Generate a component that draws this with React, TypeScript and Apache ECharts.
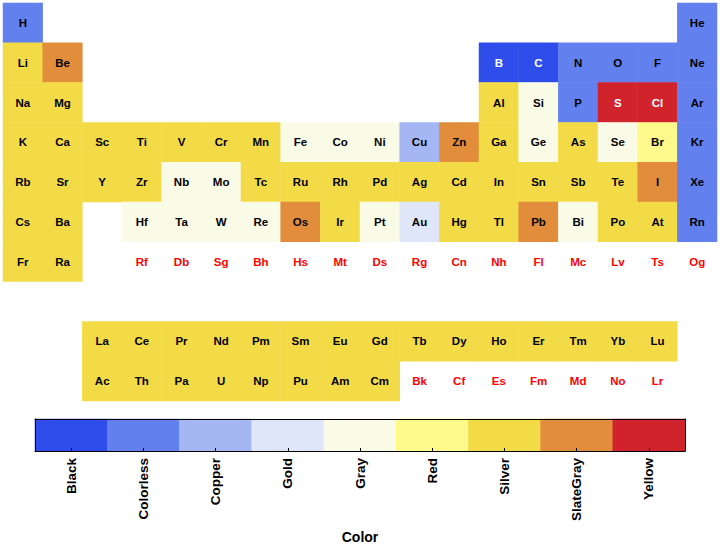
import React, { useEffect, useRef } from "react";
import * as echarts from "echarts";

// Color categories (legend order) and their swatch colours
const colorNames = ["Black", "Colorless", "Copper", "Gold", "Gray", "Red", "Silver", "SlateGray", "Yellow"];
const colorSwatches = ["#2E4DEB", "#6281EF", "#A4B7F4", "#E0E6FA", "#F9FBE7", "#FDF98B", "#F3DB48", "#E18D3B", "#D0232C"];

const _ = null;
// Periodic-table layout: 18 columns per row, null = empty cell
const row1 = ["H", _, _, _, _, _, _, _, _, _, _, _, _, _, _, _, _, "He"];
const row2 = ["Li", "Be", _, _, _, _, _, _, _, _, _, _, "B", "C", "N", "O", "F", "Ne"];
const row3 = ["Na", "Mg", _, _, _, _, _, _, _, _, _, _, "Al", "Si", "P", "S", "Cl", "Ar"];
const row4 = ["K", "Ca", "Sc", "Ti", "V", "Cr", "Mn", "Fe", "Co", "Ni", "Cu", "Zn", "Ga", "Ge", "As", "Se", "Br", "Kr"];
const row5 = ["Rb", "Sr", "Y", "Zr", "Nb", "Mo", "Tc", "Ru", "Rh", "Pd", "Ag", "Cd", "In", "Sn", "Sb", "Te", "I", "Xe"];
const row6 = ["Cs", "Ba", _, "Hf", "Ta", "W", "Re", "Os", "Ir", "Pt", "Au", "Hg", "Tl", "Pb", "Bi", "Po", "At", "Rn"];
const row7 = ["Fr", "Ra", _, "Rf", "Db", "Sg", "Bh", "Hs", "Mt", "Ds", "Rg", "Cn", "Nh", "Fl", "Mc", "Lv", "Ts", "Og"];
const row8 = [_, _, _, _, _, _, _, _, _, _, _, _, _, _, _, _, _, _];
const row9 = [_, _, "La", "Ce", "Pr", "Nd", "Pm", "Sm", "Eu", "Gd", "Tb", "Dy", "Ho", "Er", "Tm", "Yb", "Lu", _];
const row10 = [_, _, "Ac", "Th", "Pa", "U", "Np", "Pu", "Am", "Cm", "Bk", "Cf", "Es", "Fm", "Md", "No", "Lr", _];

// Colour category per cell (null = no data)
const S = "Silver", G = "Gray", C = "Colorless", SG = "SlateGray";
const color1 = [C, _, _, _, _, _, _, _, _, _, _, _, _, _, _, _, _, C];
const color2 = [S, SG, _, _, _, _, _, _, _, _, _, _, "Black", "Black", C, C, C, C];
const color3 = [S, S, _, _, _, _, _, _, _, _, _, _, S, G, C, "Yellow", "Yellow", C];
const color4 = [S, S, S, S, S, S, S, G, G, G, "Copper", SG, S, G, S, G, "Red", C];
const color5 = [S, S, S, S, G, G, S, S, S, S, S, S, S, S, S, S, SG, C];
const color6 = [S, S, _, G, G, G, G, SG, S, G, "Gold", S, S, SG, G, S, S, C];
const color7 = [S, S, _, _, _, _, _, _, _, _, _, _, _, _, _, _, _, _];
const color8 = [_, _, _, _, _, _, _, _, _, _, _, _, _, _, _, _, _, _];
const color9 = [_, _, S, S, S, S, S, S, S, S, S, S, S, S, S, S, S, _];
const color10 = [_, _, S, S, S, S, S, S, S, S, _, _, _, _, _, _, _, _];

const symbolRows = [row1, row2, row3, row4, row5, row6, row7, row8, row9, row10];
const colorRows = [color1, color2, color3, color4, color5, color6, color7, color8, color9, color10];
const columns = Array.from({ length: 18 }, (_v, i) => String(i + 1));
const rowsCat = Array.from({ length: 10 }, (_v, i) => String(i + 1));
const darkCats = ["Black", "Yellow"];

export default function App() {
  const ref = useRef<HTMLDivElement>(null);
  useEffect(() => {
    if (!ref.current) return;
    const chart = echarts.init(ref.current, null, { renderer: "svg" });
    const font = "'Liberation Sans', Arial, Helvetica, sans-serif";

    const cells: any[] = [];
    symbolRows.forEach((row, r) => {
      row.forEach((sym, c) => {
        if (!sym) return;
        const cat = colorRows[r][c];
        const idx = cat ? colorNames.indexOf(cat) : -1;
        cells.push({
          value: [c, r, idx],
          name: sym,
          label: {
            color: idx < 0 ? "#FF0000" : darkCats.includes(cat as string) ? "#FFFFFF" : "#000000",
          },
        });
      });
    });

    const barData = colorNames.map((_n, i) => ({ value: [i, 0, i] }));

    const pieces = [
      { value: -1, color: "rgba(255,255,255,0)" },
      ...colorNames.map((n, i) => ({ value: i, color: colorSwatches[i], label: n })),
    ];

    const borderAxis = {
      show: true,
      axisLine: { show: true, lineStyle: { color: "#000", width: 1 } },
      axisTick: { show: false },
      axisLabel: { show: false },
      splitLine: { show: false },
      z: 10,
    };

    chart.setOption({
      animation: false,
      backgroundColor: "#fff",
      visualMap: {
        type: "piecewise",
        show: false,
        dimension: 2,
        seriesIndex: [0, 1],
        pieces,
        outOfRange: { color: "rgba(255,255,255,0)" },
      },
      grid: [
        { left: 3, top: 3, width: 714, height: 398 },
        { left: 35, top: 419, width: 650, height: 32 },
      ],
      xAxis: [
        { type: "category", gridIndex: 0, data: columns, show: false },
        {
          type: "category",
          gridIndex: 1,
          data: colorNames,
          position: "bottom",
          z: 10,
          axisLine: { show: true, lineStyle: { color: "#000", width: 1 } },
          axisTick: { show: true, inside: true, alignWithLabel: true, length: 3, lineStyle: { color: "#000" } },
          axisLabel: {
            rotate: 90,
            margin: 7,
            color: "#000",
            fontWeight: "bold",
            fontSize: 13.5,
            fontFamily: font,
            interval: 0,
          },
          splitLine: { show: false },
          name: "Color",
          nameLocation: "middle",
          nameGap: 79,
          nameTextStyle: { color: "#000", fontWeight: "bold", fontSize: 14, fontFamily: font },
        },
        { ...borderAxis, type: "category", gridIndex: 1, data: colorNames, position: "top" },
      ],
      yAxis: [
        { type: "category", gridIndex: 0, data: rowsCat, inverse: true, show: false },
        { ...borderAxis, type: "category", gridIndex: 1, data: ["c"], position: "left" },
        { ...borderAxis, type: "category", gridIndex: 1, data: ["c"], position: "right" },
      ],
      series: [
        {
          type: "heatmap",
          xAxisIndex: 0,
          yAxisIndex: 0,
          data: cells,
          label: {
            show: true,
            formatter: (p: any) => p.name,
            fontWeight: "bold",
            fontSize: 11.5,
            fontFamily: font,
          },
          emphasis: { disabled: true },
        },
        {
          type: "heatmap",
          xAxisIndex: 1,
          yAxisIndex: 1,
          data: barData,
          emphasis: { disabled: true },
        },
      ],
    });
    return () => chart.dispose();
  }, []);
  return <div ref={ref} style={{ position: "fixed", left: 0, top: 0, width: 720, height: 546 }} />;
}
